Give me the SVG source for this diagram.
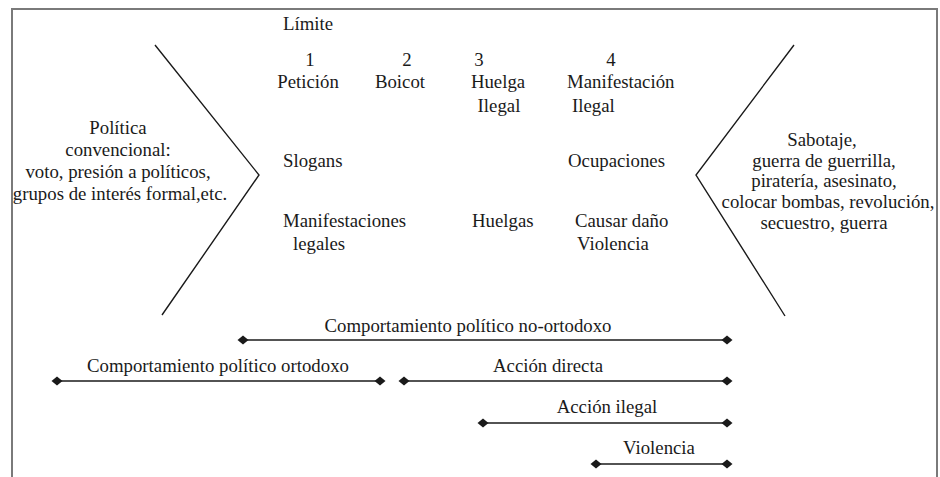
<svg xmlns="http://www.w3.org/2000/svg" width="940" height="477" viewBox="0 0 940 477">
<style>
text{font-family:"Liberation Serif","Times New Roman",serif;font-size:18.8px;fill:#1a1a1a}
.c{text-anchor:middle}
.ln{stroke:#1a1a1a;stroke-width:1.4;fill:none}
.fr{stroke:#7a7a7a;stroke-width:2;fill:none}
</style>
<defs>
<marker id="dm" viewBox="-6 -6 12 12" markerWidth="12" markerHeight="12" refX="0" refY="0" markerUnits="userSpaceOnUse" orient="auto">
<path d="M-5.5 0L0 -4.5L5.5 0L0 4.5Z" fill="#1a1a1a"/>
</marker>
</defs>
<rect width="940" height="477" fill="#fff"/>
<path class="fr" d="M12 477V9H937V477"/>
<g id="left-chevron"><path class="ln" d="M155 45L259 175L162 315"/></g>
<g id="right-chevron"><path class="ln" d="M794 45L696 175L785 316"/></g>
<g id="conventional">
<text class="c" x="118" y="134">Política</text>
<text class="c" x="118" y="156">convencional:</text>
<text class="c" x="118" y="178">voto, presión a políticos,</text>
<text class="c" x="120" y="200">grupos de interés formal,etc.</text>
</g>
<g id="limite"><text x="283" y="30">Límite</text></g>
<g id="col1">
<text class="c" x="310" y="66">1</text>
<text class="c" x="308" y="88">Petición</text>
</g>
<g id="col2">
<text class="c" x="407" y="66">2</text>
<text class="c" x="400" y="88">Boicot</text>
</g>
<g id="col3">
<text class="c" x="479" y="66">3</text>
<text class="c" x="498" y="88">Huelga</text>
<text class="c" x="499" y="112">Ilegal</text>
</g>
<g id="col4">
<text class="c" x="611" y="66">4</text>
<text x="567" y="88">Manifestación</text>
<text x="572" y="112">Ilegal</text>
</g>
<g id="slogans"><text x="283" y="167">Slogans</text></g>
<g id="ocupaciones"><text x="568" y="167">Ocupaciones</text></g>
<g id="manifestaciones">
<text x="283" y="227">Manifestaciones</text>
<text x="293" y="250">legales</text>
</g>
<g id="huelgas"><text x="472" y="227">Huelgas</text></g>
<g id="danio">
<text x="575" y="227">Causar daño</text>
<text x="577" y="250">Violencia</text>
</g>
<g id="radical">
<text class="c" x="822" y="146">Sabotaje,</text>
<text class="c" x="824" y="167">guerra de guerrilla,</text>
<text class="c" x="824" y="187">piratería, asesinato,</text>
<text class="c" x="828" y="208">colocar bombas, revolución,</text>
<text class="c" x="824" y="229">secuestro, guerra</text>
</g>
<g id="connectors">
<path class="ln" d="M243 340H727" marker-start="url(#dm)" marker-end="url(#dm)"/>
<path class="ln" d="M57 381H380" marker-start="url(#dm)" marker-end="url(#dm)"/>
<path class="ln" d="M404 381H727" marker-start="url(#dm)" marker-end="url(#dm)"/>
<path class="ln" d="M483 423H727" marker-start="url(#dm)" marker-end="url(#dm)"/>
<path class="ln" d="M596 464H727" marker-start="url(#dm)" marker-end="url(#dm)"/>
</g>
<g id="range-labels">
<text class="c" x="468" y="332">Comportamiento político no-ortodoxo</text>
<text class="c" x="218" y="372">Comportamiento político ortodoxo</text>
<text class="c" x="548" y="372">Acción directa</text>
<text class="c" x="607" y="413">Acción ilegal</text>
<text class="c" x="659" y="454">Violencia</text>
</g>
</svg>
